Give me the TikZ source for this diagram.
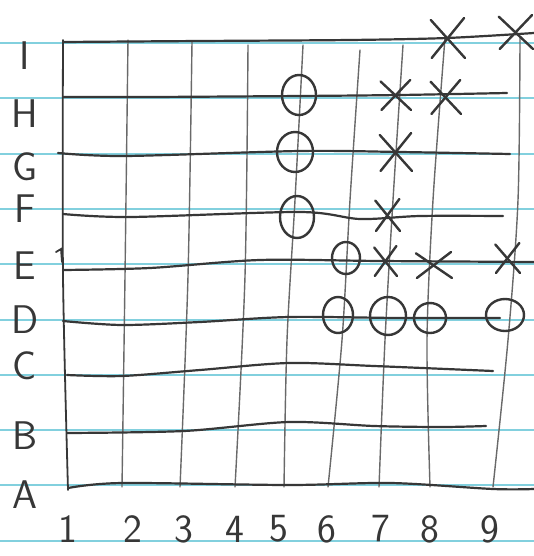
\documentclass[tikz,border=0pt]{standalone}
\usepackage{fontspec}
\definecolor{rulecol}{RGB}{130,208,222}
\definecolor{pencil}{RGB}{55,55,55}
\definecolor{pencillight}{RGB}{105,105,105}
\tikzset{
  ruled/.style={rulecol, line width=1.0pt},
  hline/.style={pencil, line width=1.1pt, line cap=round},
  vline/.style={pencillight, line width=0.7pt, line cap=round},
  pen/.style={pencil, line width=1.2pt, line cap=round},
  lab/.style={font=\fontsize{20}{22}\selectfont\sffamily, text=pencil, inner sep=0pt},
}
\newcommand\penX[4]{%
  \draw[pen] (#1-0.9*#3,#2-0.9*#4) -- (#1+#3,#2+#4);
  \draw[pen] (#1-0.85*#3,#2+#4) -- (#1+0.95*#3,#2-#4);}
\begin{document}
\begin{tikzpicture}[x=0.5pt,y=-0.5pt]
\fill[white] (0,0) rectangle (534,556);
\useasboundingbox (0,0) rectangle (534,556);
% ruled paper
\foreach \y in {43,98.3,153.6,208.9,264.2,319.5,374.8,430.1,485.4,540.7}
  \draw[ruled] (0,\y) -- (534,\y);
% vertical grid lines
\draw[hline, line width=0.9pt] plot[smooth] coordinates {(63,40) (63,276) (68,490)};
\draw[vline] plot[smooth] coordinates {(128,40) (125,276) (122,487)};
\draw[vline] plot[smooth] coordinates {(192,42) (188,276) (180,487)};
\draw[vline] plot[smooth] coordinates {(248,45) (245,276) (235,487)};
\draw[vline] plot[smooth] coordinates {(303,45) (295,200) (287,340) (284,487)};
\draw[vline] plot[smooth] coordinates {(360,50) (350,200) (342,340) (328,487)};
\draw[vline] plot[smooth] coordinates {(403,45) (393,200) (385,340) (379,487)};
\draw[vline] plot[smooth] coordinates {(445,38) (433,200) (427,340) (430,487)};
\draw[vline] plot[smooth] coordinates {(520,38) (518,200) (508,340) (493,487)};
% horizontal grid lines
\draw[hline] plot[smooth] coordinates {(63,42) (200,41) (350,40) (447,38) (534,33)};
\draw[hline] plot[smooth] coordinates {(63,97) (150,97) (300,96) (400,95) (507,93)};
\draw[hline] plot[smooth] coordinates {(58,153) (125,156) (300,151) (400,152) (510,154)};
\draw[hline] plot[smooth] coordinates {(63,214) (130,217) (300,212) (360,219) (420,216) (503,216)};
\draw[hline] plot[smooth] coordinates {(63,270) (150,268) (260,260) (380,261) (534,262)};
\draw[hline, line width=0.9pt] (56,252) -- (61,249) -- (62,262);
\draw[hline] plot[smooth] coordinates {(63,321) (122,325) (200,322) (289,317) (400,318) (500,318)};
\draw[hline] plot[smooth] coordinates {(67,375) (122,376) (200,370) (289,363) (374,366) (493,371)};
\draw[hline] plot[smooth] coordinates {(67,433) (184,431) (289,422) (374,426) (442,427) (486,426)};
\draw[hline] plot[smooth] coordinates {(68,488) (122,483) (289,485) (391,483) (493,489) (534,489)};
% row labels
\node[lab] (rI) at (25,56) {I};
\node[lab] (rH) at (25,114) {H};
\node[lab] (rG) at (25,167) {G};
\node[lab] (rF) at (25,209) {F};
\node[lab] (rE) at (25,266) {E};
\node[lab] (rD) at (25,320) {D};
\node[lab] (rC) at (25,366) {C};
\node[lab] (rB) at (25,436) {B};
\node[lab] (rA) at (25,495) {A};
% column labels
\node[lab] (c1) at (68,529) {1};
\node[lab] (c2) at (133,529) {2};
\node[lab] (c3) at (184,529) {3};
\node[lab] (c4) at (235,529) {4};
\node[lab] (c5) at (279,529) {5};
\node[lab] (c6) at (327,529) {6};
\node[lab] (c7) at (381,529) {7};
\node[lab] (c8) at (430,529) {8};
\node[lab] (c9) at (490,529) {9};
% X marks
\penX{447}{38}{18}{20}
\penX{515}{32}{18}{17}
\penX{395}{95}{16}{15}
\penX{445}{97}{16}{17}
\penX{395}{152}{17}{19}
\penX{387}{215}{13}{16}
\penX{385}{261}{12}{15}
\penX{433}{265}{19}{13}
\penX{507}{258}{13}{15}
% O marks
\draw[pen] (299,95) ellipse [x radius=17, y radius=20];
\draw[pen] (295,152) ellipse [x radius=18, y radius=20];
\draw[pen] (297,217) ellipse [x radius=17, y radius=21];
\draw[pen] (346,258) ellipse [x radius=14, y radius=16];
\draw[pen] (338,315) ellipse [x radius=15, y radius=18];
\draw[pen] (388,316) ellipse [x radius=18, y radius=19];
\draw[pen] (430,318) ellipse [x radius=16, y radius=15];
\draw[pen] (505,315) ellipse [x radius=19, y radius=16];
\end{tikzpicture}
\end{document}
